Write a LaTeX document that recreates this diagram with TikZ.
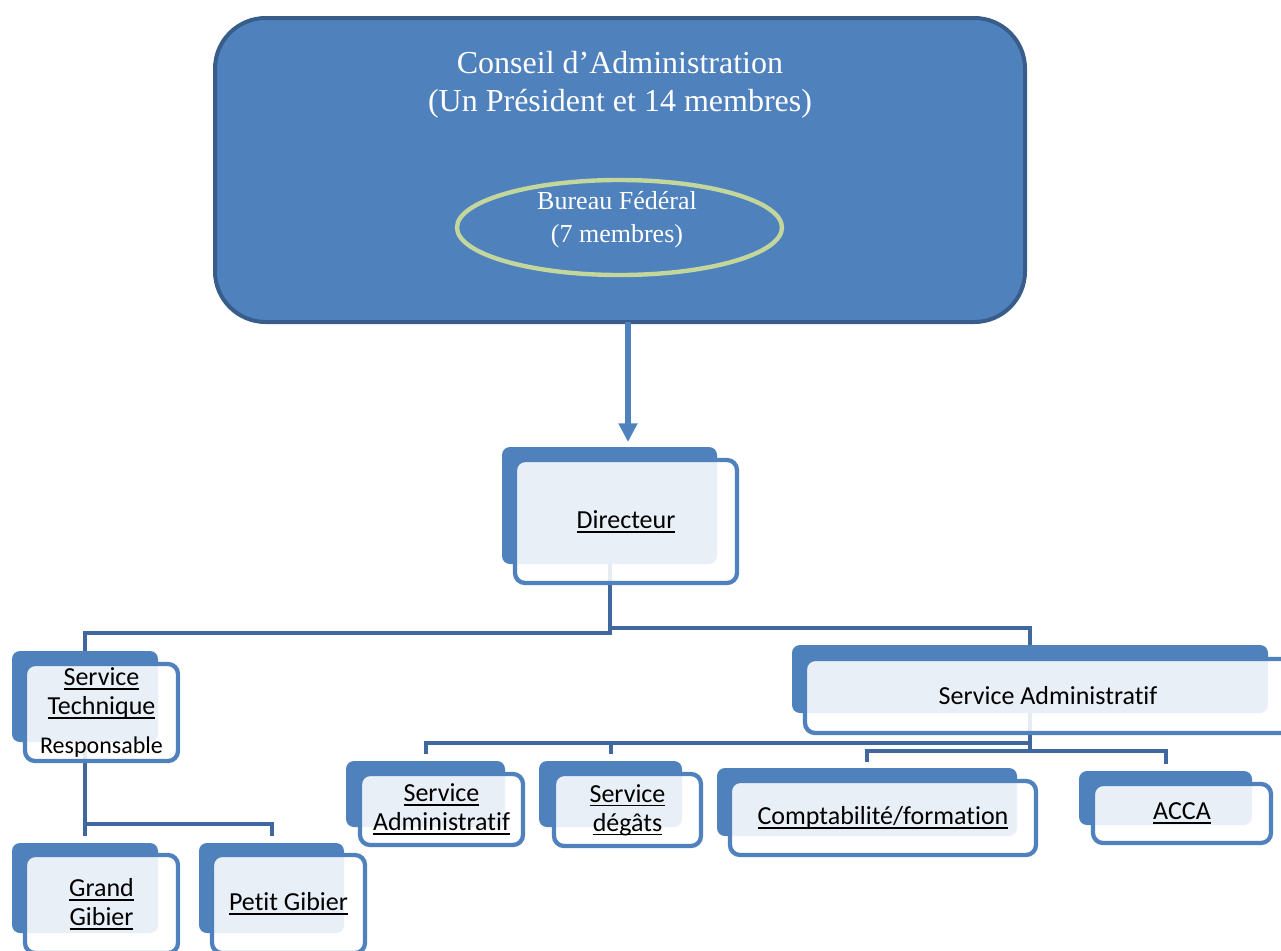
\documentclass[tikz,border=0pt]{standalone}
\usepackage{fontspec}
\setmainfont{Liberation Serif}
\newfontfamily\calibri[Ligatures=NoCommon]{Carlito}
\usetikzlibrary{arrows.meta,shapes.geometric,backgrounds,calc}
\definecolor{accent}{HTML}{4F81BD}
\definecolor{accentdark}{HTML}{385D8A}
\definecolor{conncol}{RGB}{64,104,158}
\definecolor{ellcol}{HTML}{C3D69B}
\newsavebox\ulbox
\newcommand\uln[1]{\leavevmode\sbox\ulbox{#1}\rlap{\vrule width\wd\ulbox height -1.9pt depth 3.2pt}\usebox\ulbox}
\begin{document}
\begin{tikzpicture}[x=0.75pt,y=-0.75pt,
  backbox/.style={fill=accent, draw=none, rounded corners=6pt, inner sep=0pt, outer sep=0pt},
  frontbox/.style={draw=accent, line width=3.2pt, fill=white, fill opacity=0.88, text opacity=1,
    rounded corners=7.5pt, inner sep=0pt, outer sep=0pt, align=center, text=black,
    font=\calibri\fontsize{19.5}{21.75}\selectfont},
  conn/.style={draw=conncol, line width=3pt},
  arrowline/.style={draw=accent, line width=4pt, -{Triangle[width=13.5pt,length=14pt]}},
  council/.style={draw=accentdark, line width=3pt, fill=accent, rounded corners=38pt,
    inner sep=0pt, outer sep=0pt},
  whitetext/.style={text=white, align=center, inner sep=0pt}]
\useasboundingbox (0,0) rectangle (1281,950);
\clip (0,0) rectangle (1281,950);

% Conseil d'Administration
\node[council, minimum width=607.5pt, minimum height=228pt] (cad) at (620,170) {};
\node[whitetext, font=\fontsize{24}{28.5}\selectfont] (cadt) at (620,85)
  {Conseil d’Administration\\(Un Président et 14 membres)};
\node[ellipse, draw=ellcol, line width=3.3pt, minimum width=243.75pt, minimum height=71.25pt,
  inner sep=0pt] (bf) at (619.5,227.5) {};
\node[whitetext, font=\fontsize{19.5}{24.75}\selectfont] (bft) at (617,220)
  {Bureau Fédéral\\(7 membres)};

% Directeur
\node[backbox, minimum width=161.25pt, minimum height=87.75pt] (dir-b) at (609.5,505.5) {};
\node[frontbox, minimum width=166.5pt, minimum height=92.25pt] (dir) at (626,521.5) {\uln{Directeur}};

% Service Technique
\node[backbox, minimum width=109.5pt, minimum height=68.25pt] (st-b) at (85,696.5) {};
\node[frontbox, minimum width=114.75pt, minimum height=72.75pt] (st) at (101.5,712.5)
  {\uln{Service}\\\uln{Technique}\\[7pt]{\fontsize{18}{20}\selectfont Responsable}};

% Grand Gibier / Petit Gibier
\node[backbox, minimum width=109.5pt, minimum height=67.5pt] (gg-b) at (85,888) {};
\node[frontbox, minimum width=114.75pt, minimum height=73.5pt] (gg) at (101.5,904)
  {\uln{Grand}\\\uln{Gibier}};
\node[backbox, minimum width=108.75pt, minimum height=67.5pt] (pg-b) at (271.5,888) {};
\node[frontbox, minimum width=114.75pt, minimum height=73.5pt] (pg) at (288.5,904)
  {\uln{Petit Gibier}};

% Service Administratif (large)
\node[backbox, minimum width=357pt, minimum height=51pt] (sa-b) at (1030,679) {};
\node[frontbox, minimum width=364.5pt, minimum height=55.5pt] (sa) at (1048,696)
  {Service Administratif};

% Sub-services
\node[backbox, minimum width=119.25pt, minimum height=49.5pt] (sadm-b) at (425.5,794) {};
\node[frontbox, minimum width=122.25pt, minimum height=53.25pt] (sadm) at (441.5,809.5)
  {\uln{Service}\\\uln{Administratif}};
\node[backbox, minimum width=107.25pt, minimum height=49.5pt] (dg-b) at (610.5,794) {};
\node[frontbox, minimum width=110.25pt, minimum height=54pt] (dg) at (627.5,810)
  {\uln{Service}\\\uln{dégâts}};
\node[backbox, minimum width=225pt, minimum height=51pt] (cf-b) at (867,802) {};
\node[frontbox, minimum width=229.5pt, minimum height=55.5pt] (cf) at (883,818)
  {\uln{Comptabilité/formation}};
\node[backbox, minimum width=129.75pt, minimum height=40.5pt] (acca-b) at (1165.5,798) {};
\node[frontbox, minimum width=133.5pt, minimum height=44.25pt] (acca) at (1182,813.5)
  {\uln{ACCA}};

% Arrow
\draw[arrowline] ($(cad.south -| dir.north)+(2,0)$) -- ($(dir-b.north -| dir.north)+(2,-5)$);

% Connectors
\begin{pgfonlayer}{background}
\draw[conn] (dir-b.south) -- ++(0,69) -| (st-b.north);
\draw[conn] (dir-b.south) -- ++(0,64) -| (sa-b.north);
\draw[conn] (st-b.south) -- ($(gg-b.north)+(0,-7)$);
\draw[conn] (st-b.south) -- ++(0,82) -| ($(pg-b.north)+(0,-7)$);
\draw[conn] (sa-b.south) -- ++(0,30) -| ($(sadm-b.north)+(0,-7)$);
\draw[conn] (sa-b.south) -- ++(0,30) -| ($(dg-b.north)+(0,-7)$);
\draw[conn] (sa-b.south) -- ++(0,38) -| ($(cf-b.north)+(0,-6)$);
\draw[conn] (sa-b.south) -- ++(0,38) -| ($(acca-b.north)+(0,-7)$);
\end{pgfonlayer}
\end{tikzpicture}
\end{document}
